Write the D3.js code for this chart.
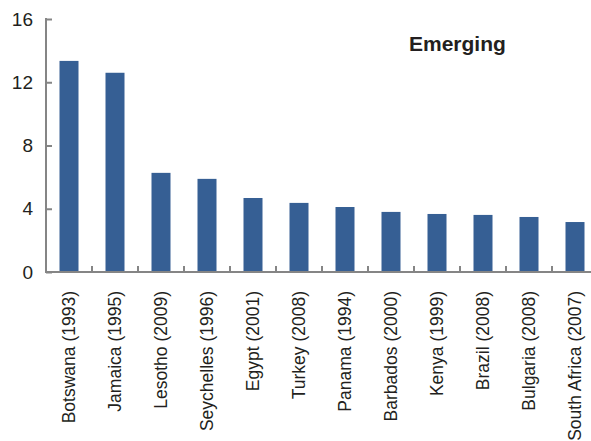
<!DOCTYPE html>
<html>
<head>
<meta charset="utf-8">
<script src="https://cdn.jsdelivr.net/npm/d3@7"></script>
<style>
  body { margin: 0; background: #fff; }
  svg { display: block; }
  text { font-family: "Liberation Sans", Arial, sans-serif; fill: #231f20; }
</style>
</head>
<body>
<div id="chart"></div>
<script>
var countries = ["Botswana (1993)", "Jamaica (1995)", "Lesotho (2009)", "Seychelles (1996)",
  "Egypt (2001)", "Turkey (2008)", "Panama (1994)", "Barbados (2000)", "Kenya (1999)",
  "Brazil (2008)", "Bulgaria (2008)", "South Africa (2007)"];
var values = [13.35, 12.6, 6.27, 5.89, 4.68, 4.37, 4.11, 3.8, 3.67, 3.61, 3.48, 3.16];
var yTicks = [0, 4, 8, 12, 16];
var title = "Emerging";

var w = 591, h = 441;
var barColor = "#365f94";
var axisColor = "#858585";

var svg = d3.select("#chart").append("svg")
  .attr("width", w)
  .attr("height", h);

var x0 = 46, y0 = 272, yTop = 19;

var x = d3.scaleBand()
  .domain(countries)
  .range([x0, x0 + 46 * countries.length])
  .paddingInner(0.587)
  .paddingOuter(0.2935);

var y = d3.scaleLinear()
  .domain([0, 16])
  .range([y0, yTop]);

// bars
svg.selectAll(".bar")
  .data(values)
  .enter().append("rect")
  .attr("class", "bar")
  .attr("x", function(d, i) { return x(countries[i]); })
  .attr("y", function(d) { return y(d); })
  .attr("width", x.bandwidth())
  .attr("height", function(d) { return y(0) - y(d); })
  .style("fill", barColor);

// y axis
var yAxis = d3.axisLeft(y)
  .tickValues(yTicks)
  .tickSize(-6)
  .tickPadding(13)
  .tickFormat(d3.format("d"));

var gy = svg.append("g")
  .attr("transform", "translate(" + x0 + ",0)")
  .call(yAxis);
gy.select(".domain").remove();
gy.selectAll(".tick line").style("stroke", axisColor).style("stroke-width", 2);
gy.selectAll(".tick text")
  .style("font-size", "19px")
  .style("font-family", "'Liberation Sans', Arial, sans-serif")
  .style("fill", "#231f20");
gy.append("line")
  .attr("x1", 0).attr("x2", 0)
  .attr("y1", yTop - 1).attr("y2", y0 + 1)
  .style("stroke", axisColor)
  .style("stroke-width", 2);

// x axis line with inward ticks between categories
var gx = svg.append("g");
gx.append("line")
  .attr("x1", x0 - 1).attr("x2", w)
  .attr("y1", y0).attr("y2", y0)
  .style("stroke", axisColor)
  .style("stroke-width", 2);

gx.selectAll(".sep")
  .data(countries.slice(1))
  .enter().append("line")
  .attr("class", "sep")
  .attr("x1", function(d) { return x(d) - x.step() * x.paddingOuter(); })
  .attr("x2", function(d) { return x(d) - x.step() * x.paddingOuter(); })
  .attr("y1", y0)
  .attr("y2", y0 - 6)
  .style("stroke", axisColor)
  .style("stroke-width", 2);

// category labels, rotated
svg.selectAll(".lab")
  .data(countries)
  .enter().append("text")
  .attr("class", "lab")
  .attr("transform", function(d) {
    return "translate(" + (x(d) + x.bandwidth() / 2) + "," + (y0 + 19) + ")rotate(-90)";
  })
  .attr("dy", "0.35em")
  .style("text-anchor", "end")
  .style("font-size", "17.5px")
  .text(function(d) { return d; });

// title
svg.append("text")
  .attr("x", 409)
  .attr("y", 51)
  .style("font-size", "21px")
  .style("font-weight", "bold")
  .text(title);
</script>
</body>
</html>
